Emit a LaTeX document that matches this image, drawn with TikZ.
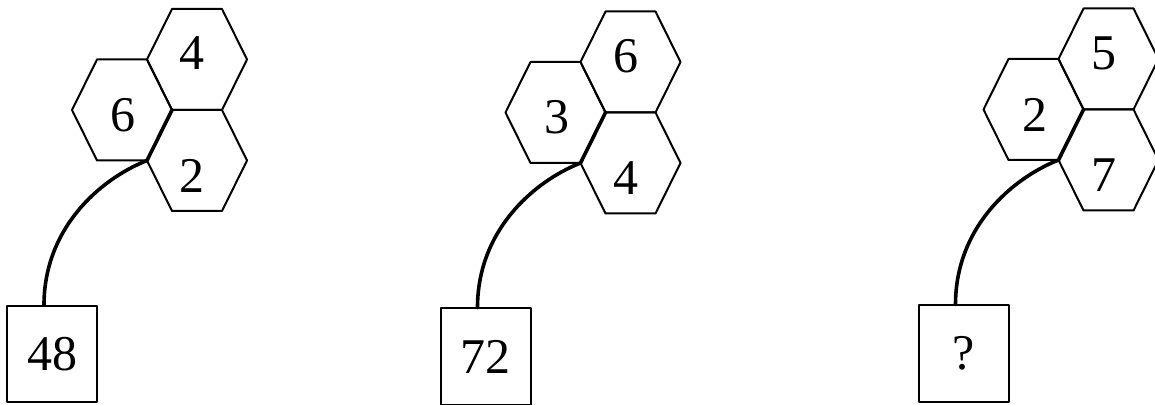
\documentclass[tikz,border=0pt]{standalone}
\usepackage{fontspec}
\setmainfont{Liberation Serif}
\begin{document}
\begin{tikzpicture}[x=0.5pt, y=-0.5pt, line join=round,
        cell/.style={draw, line width=1pt},
        stem/.style={line width=1.8pt, line cap=round},
        digit/.style={inner sep=0pt, font=\fontsize{25}{30}\selectfont},
        answer/.style={draw, line width=1pt, minimum width=45pt, minimum height=48pt, inner sep=0pt, font=\fontsize{25}{30}\selectfont}]
    \useasboundingbox (0,0) rectangle (1155,405);
    \foreach \i/\cx/\cy/\a/\b/\c/\r in {1/122/110/6/4/2/48, 2/555.5/112.5/3/6/4/72, 3/1033.5/109.5/2/5/7/?}{
        % three cells of the flower
        \foreach \dx/\dy in {0/0, 75/-50.5, 75/50.5}
            \draw[cell, shift={(\cx+\dx,\cy+\dy)}] (-50,0) -- (-25,-50.5) -- (25,-50.5) -- (50,0) -- (25,50.5) -- (-25,50.5) -- cycle;
        \node[digit] (left\i) at (\cx+1,\cy+5) {\a};
        \node[digit] (top\i) at (\cx+70,\cy-56.5) {\b};
        \node[digit] (low\i) at (\cx+70,\cy+65.5) {\c};
        \node[answer] (box\i) at (\cx-70,\cy+244) {\r};
        % stem
        \coordinate (hub\i) at (\cx+50,\cy);
        \coordinate (fork\i) at (\cx+25,\cy+50.5);
        \draw[stem] (hub\i) -- (fork\i) .. controls +(-48,19) and +(0,-76) .. ([xshift=-4pt]box\i.north);
    }
\end{tikzpicture}
\end{document}
